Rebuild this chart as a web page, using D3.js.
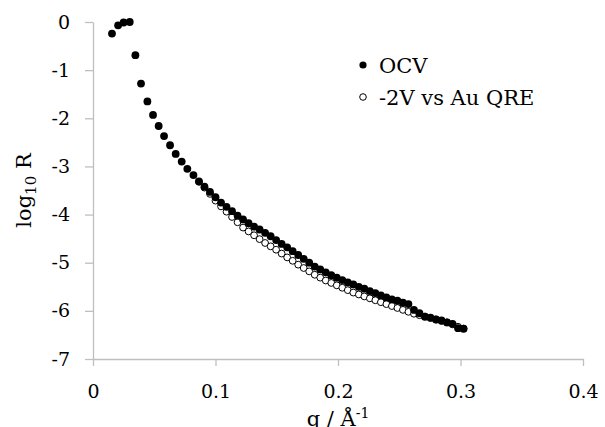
<!DOCTYPE html>
<html>
<head>
<meta charset="utf-8">
<script src="https://cdn.jsdelivr.net/npm/d3@7"></script>
<style>
  body { margin: 0; background: #fff; }
  svg { font-family: "DejaVu Serif", serif; }
</style>
</head>
<body>
<div id="chart"></div>
<script>
// OCV series (filled markers)
const ocvQ = [0.0155, 0.0205, 0.025, 0.030, 0.0346, 0.0392, 0.0444, 0.049, 0.0536, 0.058,
  0.0629, 0.0675, 0.0724, 0.077, 0.082, 0.0865, 0.091, 0.0955, 0.100, 0.1045,
  0.109, 0.1135, 0.118, 0.1225, 0.127, 0.1315, 0.136, 0.1405, 0.145, 0.1495,
  0.154, 0.1585, 0.163, 0.1675, 0.172, 0.1765, 0.181, 0.1855, 0.190, 0.1945,
  0.199, 0.2035, 0.208, 0.2125, 0.217, 0.2215, 0.226, 0.2305, 0.235, 0.2395,
  0.244, 0.2485, 0.253, 0.2575, 0.262, 0.2665, 0.271, 0.2755, 0.280, 0.2845,
  0.289, 0.2935, 0.298, 0.3025];
const ocvR = [-0.24, -0.07, -0.01, 0.00, -0.69, -1.28, -1.65, -1.93, -2.16, -2.37,
  -2.56, -2.74, -2.90, -3.05, -3.18, -3.31, -3.42, -3.53, -3.64, -3.75,
  -3.84, -3.93, -4.02, -4.10, -4.18, -4.25, -4.31, -4.38, -4.45, -4.53,
  -4.61, -4.68, -4.76, -4.84, -4.92, -5.00, -5.08, -5.14, -5.20, -5.26,
  -5.31, -5.36, -5.41, -5.45, -5.50, -5.54, -5.59, -5.63, -5.68, -5.72,
  -5.76, -5.79, -5.83, -5.86, -5.98, -6.05, -6.12, -6.14, -6.18, -6.20,
  -6.24, -6.27, -6.36, -6.37];

// -2V vs Au QRE series (open markers)
const negQ = [0.0865, 0.091, 0.0955, 0.100, 0.1045, 0.109, 0.1135, 0.118, 0.1225, 0.127,
  0.1315, 0.136, 0.1405, 0.145, 0.1495, 0.154, 0.1585, 0.163, 0.1675, 0.172,
  0.1765, 0.181, 0.1855, 0.190, 0.1945, 0.199, 0.2035, 0.208, 0.2125, 0.217,
  0.2215, 0.226, 0.2305, 0.235, 0.2395, 0.244, 0.2485, 0.253, 0.2575, 0.262,
  0.2665, 0.271, 0.2755, 0.280, 0.2845, 0.289, 0.2935, 0.298, 0.3025];
const negR = [-3.32, -3.44, -3.57, -3.71, -3.83, -3.94, -4.05, -4.16, -4.27, -4.35,
  -4.43, -4.51, -4.59, -4.66, -4.73, -4.81, -4.89, -4.96, -5.04, -5.11,
  -5.18, -5.25, -5.31, -5.37, -5.42, -5.47, -5.52, -5.57, -5.62, -5.66,
  -5.70, -5.74, -5.78, -5.82, -5.86, -5.90, -5.94, -5.98, -6.02, -6.06,
  -6.09, -6.12, -6.15, -6.18, -6.21, -6.24, -6.28, -6.33, -6.37];

const xTicks = [0, 0.1, 0.2, 0.3, 0.4];
const yTicks = [0, -1, -2, -3, -4, -5, -6, -7];
const seriesNames = ["OCV", "-2V vs Au QRE"];

const W = 605, H = 427;
const margin = {top: 22, right: 22, bottom: 68, left: 93};
const width = W - margin.left - margin.right,
      height = H - margin.top - margin.bottom;

const svg = d3.select("#chart")
  .append("svg")
    .attr("width", W)
    .attr("height", H)
  .append("g")
    .attr("transform", `translate(${margin.left},${margin.top})`);

const x = d3.scaleLinear().domain([0, 0.4]).range([0, width]);
const y = d3.scaleLinear().domain([-7, 0]).range([height, 0]);

const axisColor = "#bfbfbf";

// X axis
const gx = svg.append("g")
  .attr("transform", `translate(0,${height})`)
  .call(d3.axisBottom(x).tickValues(xTicks).tickSize(7).tickSizeOuter(0)
    .tickFormat(d => d === 0 ? "0" : d3.format(".1f")(d)));

// Y axis
const gy = svg.append("g")
  .call(d3.axisLeft(y).tickValues(yTicks).tickSize(8).tickSizeOuter(0)
    .tickFormat(d => d === 0 ? "0" : "-" + Math.abs(d)));

[gx, gy].forEach(g => {
  g.select(".domain").attr("stroke", axisColor).attr("stroke-width", 1.3);
  g.selectAll(".tick line").attr("stroke", axisColor).attr("stroke-width", 1.3);
  g.selectAll(".tick text")
    .attr("fill", "#000")
    .style("font-family", "DejaVu Serif, serif")
    .style("font-size", "19px");
});
gx.selectAll(".tick text").attr("dy", "1.55em");
gy.selectAll(".tick text").attr("x", -23);

// Axis titles
const yt = svg.append("text")
  .attr("transform", `translate(${31 - margin.left},${height / 2}) rotate(-90)`)
  .attr("text-anchor", "middle")
  .style("font-size", "21px");
yt.append("tspan").text("log");
yt.append("tspan").attr("dy", 5).style("font-size", "15px").text("10");
yt.append("tspan").attr("dy", -5).text(" R");

const xt = svg.append("text")
  .attr("x", width / 2)
  .attr("y", 426 - margin.top)
  .attr("text-anchor", "middle")
  .style("font-size", "21px");
xt.append("tspan").text("q / Å");
xt.append("tspan").attr("dy", -8).style("font-size", "14px").text("-1");

// -2V series (drawn first, underneath)
const negData = negQ.map((q, i) => ({q: q, r: negR[i]}));
svg.selectAll(".neg")
  .data(negData)
  .join("circle")
    .attr("class", "neg")
    .attr("cx", d => x(d.q))
    .attr("cy", d => y(d.r))
    .attr("r", 3.4)
    .attr("fill", "#fff")
    .attr("stroke", "#000")
    .attr("stroke-width", 1);

// OCV series
const ocvData = ocvQ.map((q, i) => ({q: q, r: ocvR[i]}));
svg.selectAll(".ocv")
  .data(ocvData)
  .join("circle")
    .attr("class", "ocv")
    .attr("cx", d => x(d.q))
    .attr("cy", d => y(d.r))
    .attr("r", 3.9)
    .attr("fill", "#000");

// Legend
const legend = svg.append("g")
  .attr("transform", `translate(${363 - margin.left},${65 - margin.top})`);
legend.append("circle").attr("r", 3.6).attr("fill", "#000");
legend.append("circle").attr("cy", 32).attr("r", 3.3)
  .attr("fill", "#fff").attr("stroke", "#000").attr("stroke-width", 1);
legend.selectAll(".lt")
  .data(seriesNames)
  .join("text")
    .attr("class", "lt")
    .attr("x", 16)
    .attr("y", (d, i) => 7.5 + i * 32)
    .style("font-size", "21px")
    .text(d => d);
</script>
</body>
</html>
